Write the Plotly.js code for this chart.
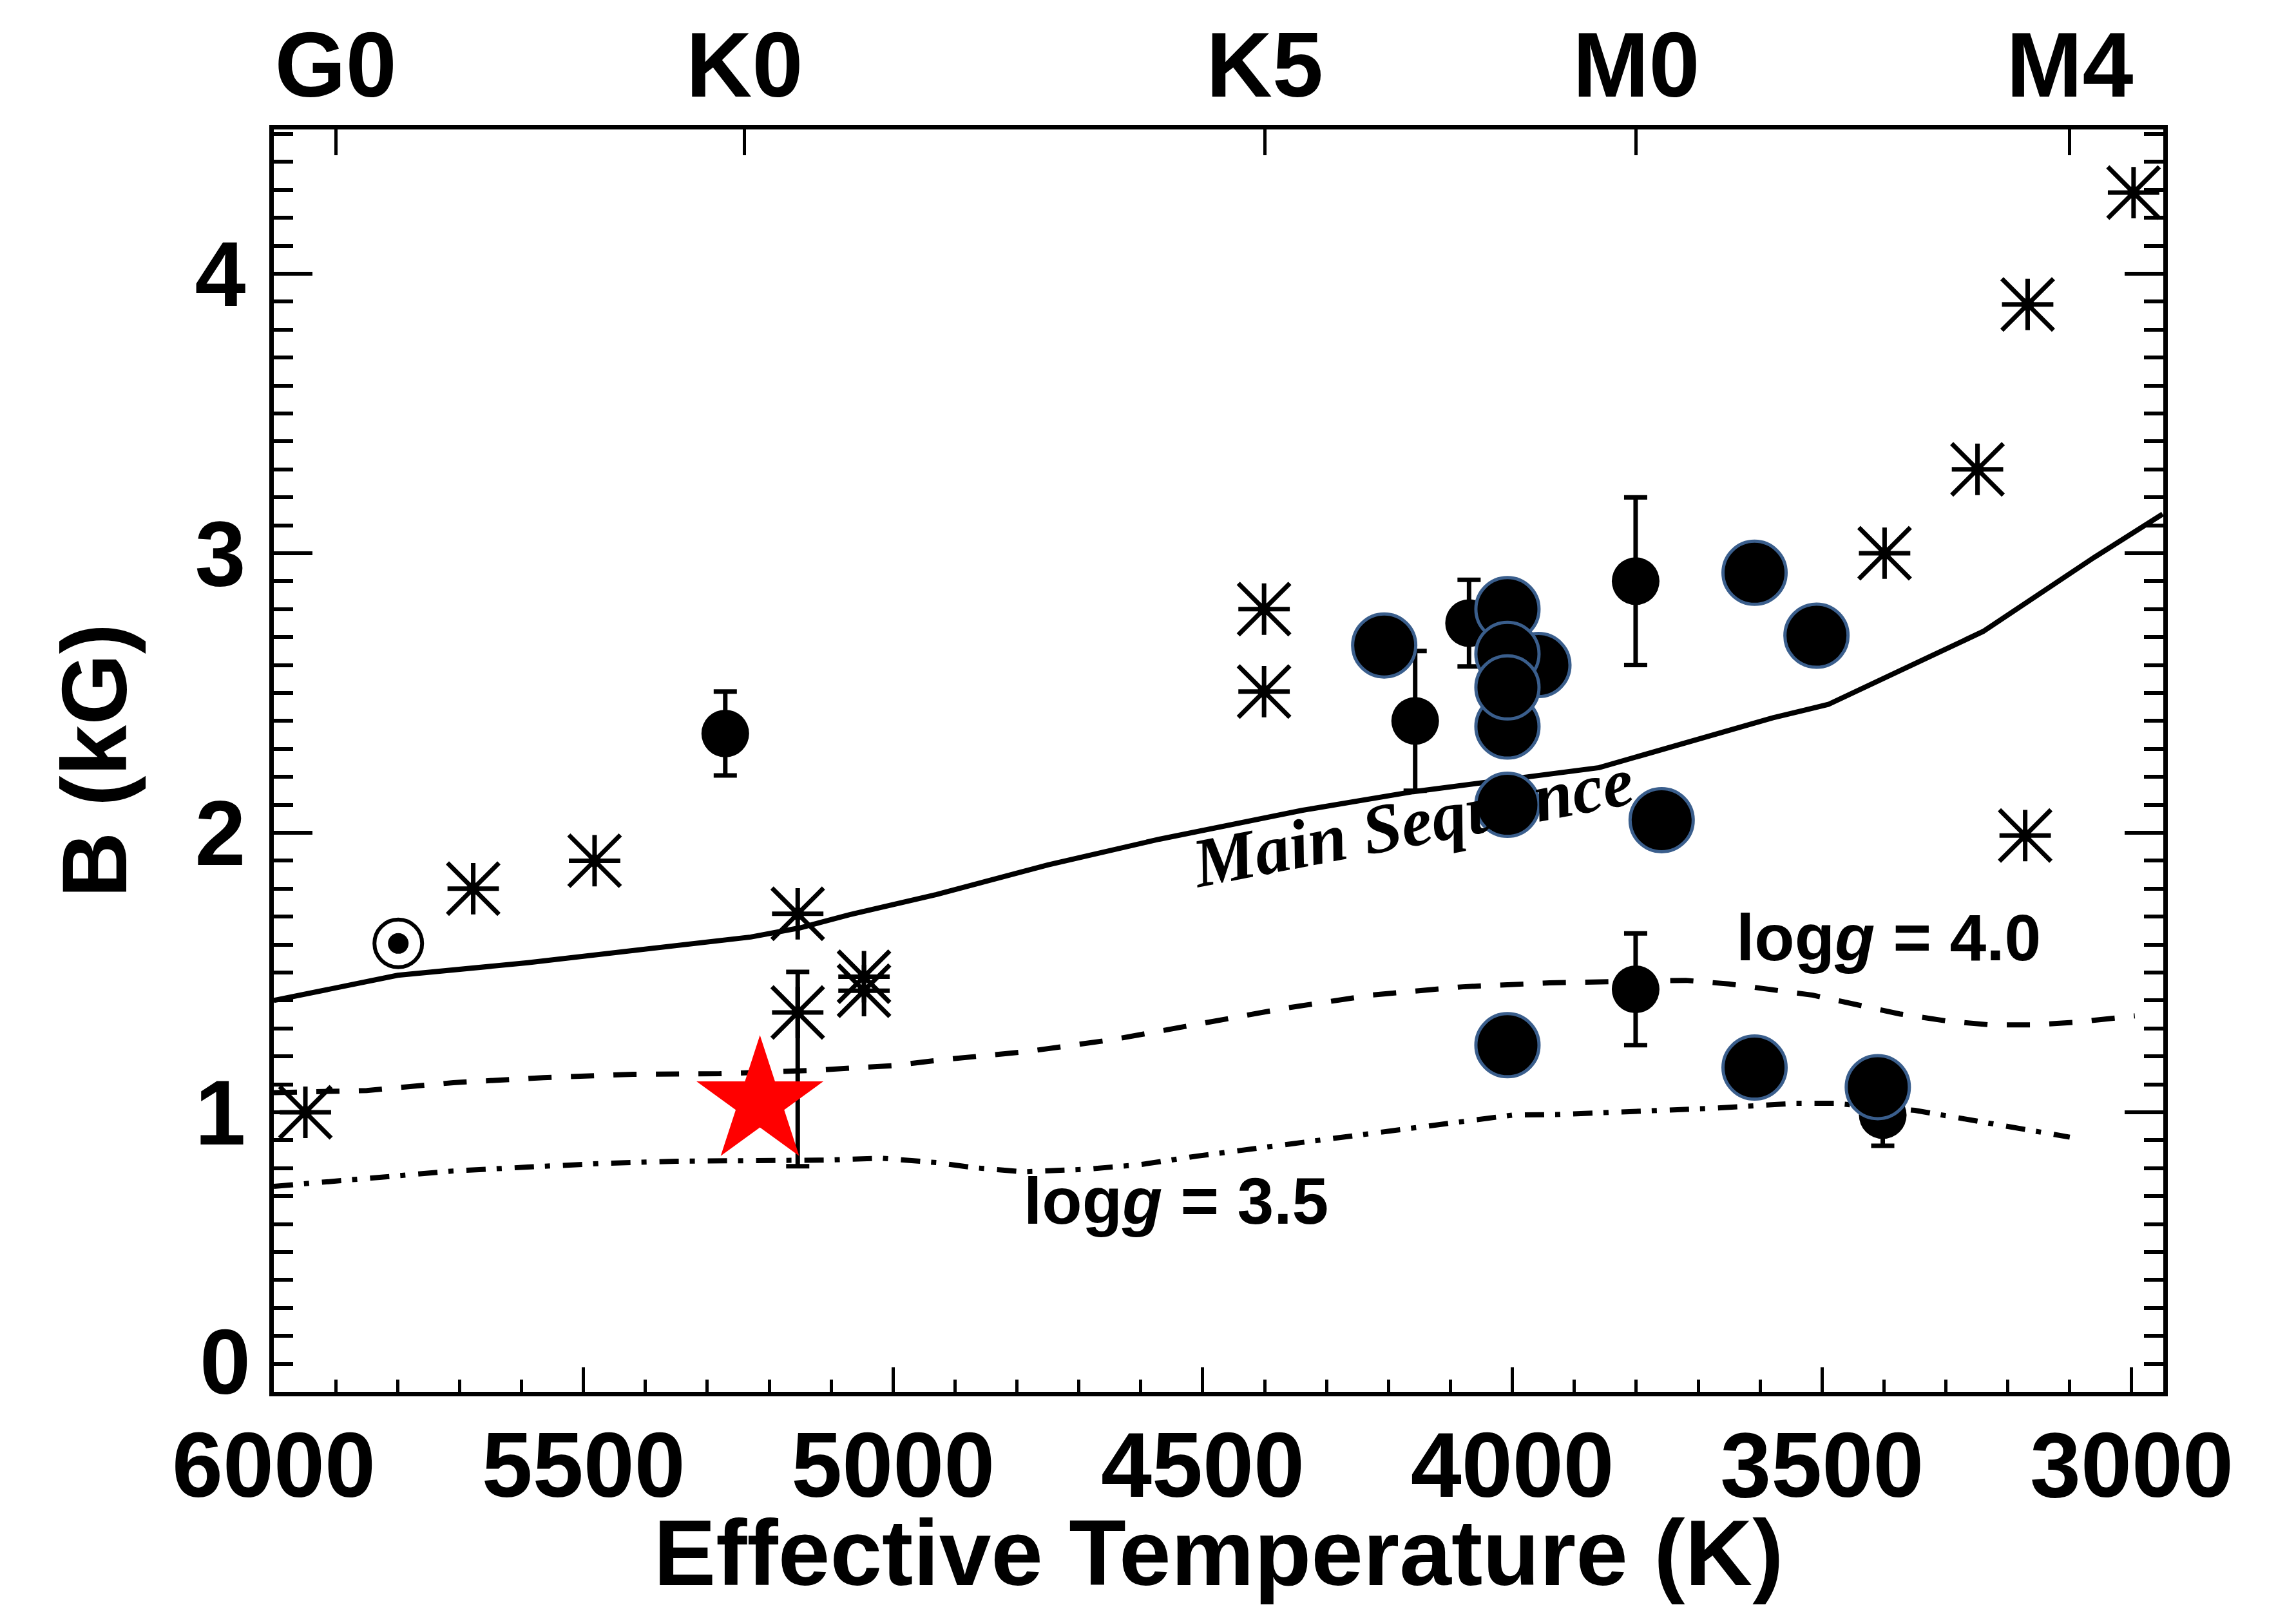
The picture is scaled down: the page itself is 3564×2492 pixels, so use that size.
<!DOCTYPE html>
<html>
<head>
<meta charset="utf-8">
<script src="https://cdn.plot.ly/plotly-3.0.1.min.js"></script>
<style>
html, body { margin: 0; padding: 0; background: #ffffff; }
#chart { width: 3564px; height: 2492px; }
</style>
</head>
<body>
<div id="chart"></div>
<script>
// ---------------- data ----------------
// Main-sequence curve (Teff in K, B in kG)
const msTeff = [6000, 5800, 5590, 5410, 5230, 5150, 5070, 4930, 4750, 4570, 4340, 4160, 3860, 3580, 3490, 3240, 3060, 2950];
const msB    = [1.40, 1.49, 1.535, 1.58, 1.627, 1.66, 1.707, 1.779, 1.885, 1.977, 2.08, 2.147, 2.233, 2.411, 2.459, 2.72, 2.986, 3.14];

// log g = 4.0 curve (dashed)
const g40Teff = [6000, 5850, 5710, 5565, 5420, 5280, 5130, 5000, 4925, 4785, 4645, 4505, 4365, 4225, 4080, 3940, 3800, 3720, 3650, 3515, 3375, 3300, 3230, 3160, 3090, 2995];
const g40B    = [1.07, 1.078, 1.106, 1.124, 1.136, 1.138, 1.150, 1.167, 1.187, 1.217, 1.26, 1.316, 1.373, 1.42, 1.449, 1.463, 1.47, 1.472, 1.459, 1.419, 1.352, 1.327, 1.313, 1.313, 1.322, 1.345];

// log g = 3.5 curve (dash-dot)
const g35Teff = [6000, 5830, 5710, 5590, 5470, 5350, 5230, 5110, 5020, 4930, 4870, 4790, 4690, 4600, 4510, 4430, 4200, 4000, 3930, 3810, 3680, 3545, 3480, 3350, 3215, 3100];
const g35B    = [0.735, 0.767, 0.79, 0.804, 0.817, 0.825, 0.827, 0.829, 0.836, 0.82, 0.802, 0.787, 0.796, 0.813, 0.843, 0.866, 0.935, 0.99, 0.992, 1.002, 1.014, 1.032, 1.032, 1.007, 0.956, 0.911];

// Asterisk stars
const astTeff = [5949, 5678, 5482, 5154, 5047, 5047, 4401, 4401, 3399, 3249, 3168, 3172, 2997];
const astB    = [1.00, 1.80, 1.90, 1.71, 1.485, 1.435, 2.80, 2.505, 3.00, 3.30, 3.89, 1.99, 4.29];

// Asterisk star with an (asymmetric) error bar
const astErrTeff  = [5154];
const astErrB     = [1.357];
const astErrPlus  = [0.145];
const astErrMinus = [0.55];

// Small filled circles with error bars
const scTeff = [5271, 4157, 4070, 3801, 3801, 3402];
const scB    = [2.355, 2.40, 2.75, 2.90, 1.44, 0.99];
const scErr  = [0.15, 0.25, 0.155, 0.30, 0.20, 0.11];

// Large circles (blue outline)
const bcTeff = [4207, 3958, 4008, 4008, 4008, 4008, 4008, 3759, 3609, 3509, 4008, 3609, 3410];
const bcB    = [2.67, 2.60, 2.38, 2.80, 2.64, 2.52, 2.10, 2.045, 2.93, 2.705, 1.24, 1.16, 1.09];

// Sun
const sunTeff = [5799];
const sunB    = [1.604];

// Red star
const starTeff = [5215];
const starB    = [1.037];

// Spectral-type axis (top)
const specTeff   = [5900, 5240, 4400, 3800, 3100];
const specLabels = ['G0', 'K0', 'K5', 'M0', 'M4'];

// Axis ticks
const yTickVals   = [0, 1, 2, 3, 4];
const yTickLabels = ['', '1', '2', '3', '4'];   // "0" is drawn on the overlay axis, raised as in the original
const yZeroVals   = [0];
const yZeroLabels = ['0'];
const xTickVals = [6000, 5500, 5000, 4500, 4000, 3500, 3000];

// ---------------- styling ----------------
const sansBold = { family: 'Liberation Sans, Arial, sans-serif', size: 142, color: '#000000', weight: 'bold' };
const X_RANGE = [6000, 2949];
const Y_RANGE = [0, 4.516];

const traces = [
  { x: msTeff, y: msB, mode: 'lines', line: { color: '#000', width: 8 }, hoverinfo: 'skip' },
  { x: g40Teff, y: g40B, mode: 'lines', line: { color: '#000', width: 8, dash: '36px,30px' }, hoverinfo: 'skip' },
  { x: g35Teff, y: g35B, mode: 'lines', line: { color: '#000', width: 8, dash: '30px,17px,8px,20px' }, hoverinfo: 'skip' },

  // asterisks: diagonals + orthogonal arms + central blob
  { x: astTeff, y: astB, mode: 'markers', marker: { symbol: 'x-thin-open', size: 80, color: '#000', line: { color: '#000', width: 7 } } },
  { x: astTeff, y: astB, mode: 'markers', marker: { symbol: 'cross-thin-open', size: 57, color: '#000', line: { color: '#000', width: 7 } } },
  { x: astTeff, y: astB, mode: 'markers', marker: { symbol: 'circle', size: 20, color: '#000' } },

  { x: astErrTeff, y: astErrB, mode: 'markers',
    error_y: { type: 'data', symmetric: false, array: astErrPlus, arrayminus: astErrMinus, color: '#000', thickness: 7, width: 18 },
    marker: { symbol: 'x-thin-open', size: 80, color: '#000', line: { color: '#000', width: 7 } } },
  { x: astErrTeff, y: astErrB, mode: 'markers', marker: { symbol: 'cross-thin-open', size: 57, color: '#000', line: { color: '#000', width: 7 } } },
  { x: astErrTeff, y: astErrB, mode: 'markers', marker: { symbol: 'circle', size: 20, color: '#000' } },

  // Sun symbol
  { x: sunTeff, y: sunB, mode: 'markers', marker: { symbol: 'circle-open', size: 74, color: '#000', line: { color: '#000', width: 6 } } },
  { x: sunTeff, y: sunB, mode: 'markers', marker: { symbol: 'circle', size: 32, color: '#000' } },

  // small circles with error bars
  { x: scTeff, y: scB, mode: 'markers',
    error_y: { type: 'data', array: scErr, color: '#000', thickness: 7, width: 18 },
    marker: { symbol: 'circle', size: 74, color: '#000' } },

  // large circles
  { x: bcTeff, y: bcB, mode: 'markers', marker: { symbol: 'circle', size: 98, color: '#000', line: { color: '#3A5E8C', width: 5 } } },

  // red star
  { x: starTeff, y: starB, mode: 'markers', marker: { symbol: 'star', size: 148, color: '#FF0000', line: { width: 0 } } },

  // carriers for the overlay axes (no visible marks)
  { x: specTeff, y: specTeff.map(() => null), xaxis: 'x2', yaxis: 'y', mode: 'markers', hoverinfo: 'skip' },
  { x: yZeroVals.map(() => null), y: yZeroVals, xaxis: 'x', yaxis: 'y2', mode: 'markers', hoverinfo: 'skip' }
];

const layout = {
  width: 3564,
  height: 2492,
  autosize: false,
  margin: { l: 425, r: 206, t: 201, b: 331, pad: 0 },
  paper_bgcolor: '#ffffff',
  plot_bgcolor: '#ffffff',
  showlegend: false,
  xaxis: {
    range: X_RANGE,
    tickmode: 'array', tickvals: xTickVals,
    ticks: 'inside', ticklen: 38, tickwidth: 5, tickcolor: '#000',
    minor: { dtick: 100, tick0: 3000, ticks: 'inside', ticklen: 19, tickwidth: 5, tickcolor: '#000', showgrid: false },
    showline: true, linewidth: 7, linecolor: '#000', mirror: false,
    showgrid: false, zeroline: false,
    tickfont: sansBold, ticklabelstandoff: -14,
    automargin: false,
    title: { text: 'Effective Temperature (K)', font: { family: 'Liberation Sans, Arial, sans-serif', size: 145, color: '#000', weight: 'bold' }, standoff: 96 }
  },
  xaxis2: {
    overlaying: 'x', side: 'top', anchor: 'y',
    range: X_RANGE,
    tickmode: 'array', tickvals: specTeff, ticktext: specLabels,
    ticks: 'inside', ticklen: 40, tickwidth: 5, tickcolor: '#000',
    showline: true, linewidth: 7, linecolor: '#000',
    showgrid: false, zeroline: false,
    tickfont: sansBold, ticklabelstandoff: -13,
    automargin: false
  },
  yaxis: {
    range: Y_RANGE,
    tickmode: 'array', tickvals: yTickVals, ticktext: yTickLabels,
    ticks: 'inside', ticklen: 60, tickwidth: 6, tickcolor: '#000',
    minor: { dtick: 0.1, tick0: 0, ticks: 'inside', ticklen: 30, tickwidth: 6, tickcolor: '#000', showgrid: false },
    showline: true, linewidth: 7, linecolor: '#000', mirror: 'ticks',
    showgrid: false, zeroline: false,
    tickfont: sansBold, ticklabelstandoff: 8,
    automargin: false,
    title: { text: 'B (kG)', font: { family: 'Liberation Sans, Arial, sans-serif', size: 142, color: '#000', weight: 'bold' }, standoff: 60 }
  },
  yaxis2: {
    overlaying: 'y', side: 'left', anchor: 'x',
    range: Y_RANGE,
    tickmode: 'array', tickvals: yZeroVals, ticktext: yZeroLabels,
    ticks: '', showline: false, showgrid: false, zeroline: false,
    tickfont: sansBold, ticklabelstandoff: 35, ticklabelshift: -47,
    automargin: false
  },
  annotations: [
    { x: 4161, y: 2.037, xref: 'x', yref: 'y', text: 'Main Sequence', showarrow: false, textangle: -10.9,
      font: { family: 'Liberation Serif, Times New Roman, serif', size: 108, color: '#000', style: 'italic', weight: 'bold' } },
    { x: 3393, y: 1.624, xref: 'x', yref: 'y', text: 'log<i>g</i> = 4.0', showarrow: false,
      font: { family: 'Liberation Sans, Arial, sans-serif', size: 102, color: '#000', weight: 'bold' } },
    { x: 4543, y: 0.681, xref: 'x', yref: 'y', text: 'log<i>g</i> = 3.5', showarrow: false,
      font: { family: 'Liberation Sans, Arial, sans-serif', size: 102, color: '#000', weight: 'bold' } }
  ]
};

Plotly.newPlot('chart', traces, layout, { staticPlot: true, displayModeBar: false });
</script>
</body>
</html>
